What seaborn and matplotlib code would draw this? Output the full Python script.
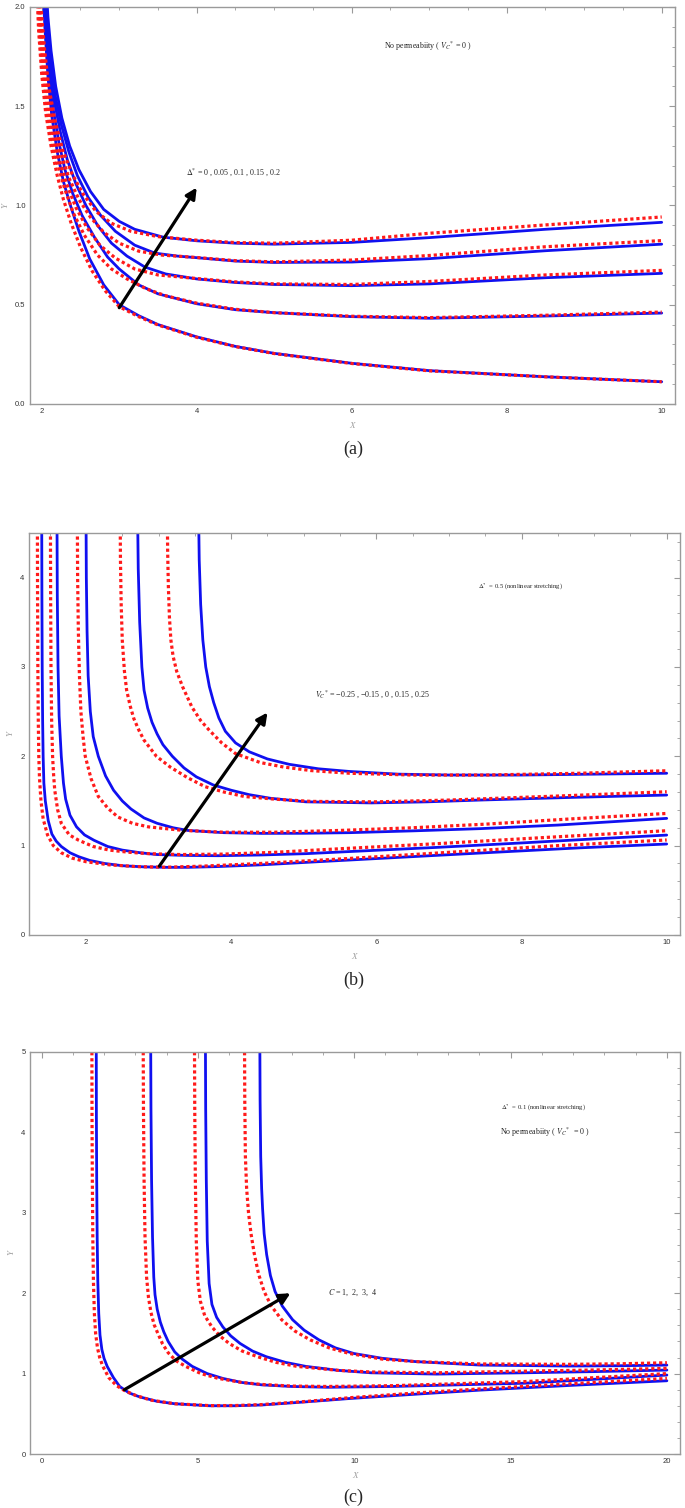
import seaborn as sns
import matplotlib.pyplot as plt
import pandas as pd

# ---------------- panel (a): Delta* = 0, 0.05, 0.1, 0.15, 0.2 (bottom -> top)
a_blue_x = [
    [2.01, 2.04, 2.08, 2.13, 2.2, 2.28, 2.37, 2.48, 2.62, 2.8, 3.0, 3.25, 3.5, 4.0, 4.5, 5.0, 6.0, 7.0, 8.5, 10.0],
    [2.02, 2.05, 2.09, 2.15, 2.22, 2.3, 2.4, 2.52, 2.68, 2.85, 3.0, 3.25, 3.5, 4.0, 4.5, 5.0, 6.0, 7.0, 8.5, 10.0],
    [2.03, 2.06, 2.1, 2.16, 2.24, 2.33, 2.44, 2.57, 2.72, 2.9, 3.1, 3.33, 3.6, 4.0, 4.5, 5.0, 6.0, 7.0, 8.5, 10.0],
    [2.04, 2.07, 2.11, 2.17, 2.25, 2.35, 2.46, 2.6, 2.76, 2.95, 3.2, 3.46, 3.75, 4.0, 4.5, 5.0, 6.0, 7.0, 8.5, 10.0],
    [2.05, 2.08, 2.12, 2.18, 2.26, 2.36, 2.48, 2.63, 2.8, 3.0, 3.2, 3.57, 4.0, 4.5, 5.0, 6.0, 7.0, 8.5, 10.0],
]
a_blue_y = [
    [2.15, 1.9, 1.65, 1.45, 1.27, 1.12, 1.0, 0.87, 0.73, 0.6, 0.5, 0.445, 0.40, 0.338, 0.29, 0.255, 0.205, 0.168, 0.137, 0.112],
    [2.15, 1.9, 1.68, 1.48, 1.32, 1.18, 1.06, 0.95, 0.84, 0.74, 0.68, 0.6, 0.555, 0.505, 0.475, 0.46, 0.44, 0.432, 0.443, 0.458],
    [2.15, 1.92, 1.72, 1.53, 1.37, 1.23, 1.11, 1.0, 0.9, 0.81, 0.745, 0.69, 0.655, 0.63, 0.612, 0.602, 0.596, 0.605, 0.636, 0.658],
    [2.15, 1.93, 1.75, 1.56, 1.41, 1.27, 1.15, 1.04, 0.95, 0.87, 0.8, 0.76, 0.745, 0.737, 0.72, 0.713, 0.715, 0.732, 0.772, 0.805],
    [2.15, 1.95, 1.78, 1.6, 1.44, 1.3, 1.18, 1.07, 0.98, 0.92, 0.88, 0.84, 0.822, 0.81, 0.805, 0.814, 0.838, 0.88, 0.915],
]
a_red_x = [
    [1.93, 1.96, 2.0, 2.05, 2.12, 2.2, 2.28, 2.38, 2.5, 2.65, 2.82, 3.0, 3.25, 3.5, 4.0, 4.5, 5.0, 6.0, 7.0, 8.5, 10.0],
    [1.94, 1.97, 2.01, 2.06, 2.13, 2.21, 2.3, 2.41, 2.55, 2.72, 2.9, 3.1, 3.35, 3.6, 4.0, 4.5, 5.0, 6.0, 7.0, 8.5, 10.0],
    [1.95, 1.98, 2.02, 2.07, 2.14, 2.22, 2.32, 2.44, 2.58, 2.75, 2.95, 3.2, 3.5, 4.0, 4.5, 5.0, 6.0, 7.0, 8.5, 10.0],
    [1.96, 1.99, 2.03, 2.08, 2.15, 2.24, 2.35, 2.48, 2.63, 2.8, 3.0, 3.25, 3.55, 4.0, 4.5, 5.0, 6.0, 7.0, 8.5, 10.0],
    [1.97, 2.0, 2.04, 2.09, 2.17, 2.27, 2.39, 2.53, 2.7, 2.9, 3.15, 3.5, 4.0, 4.5, 5.0, 6.0, 7.0, 8.5, 10.0],
]
a_red_y = [
    [2.15, 1.88, 1.66, 1.47, 1.3, 1.15, 1.03, 0.91, 0.79, 0.67, 0.57, 0.49, 0.44, 0.398, 0.336, 0.289, 0.254, 0.204, 0.167, 0.137, 0.112],
    [2.15, 1.9, 1.68, 1.5, 1.34, 1.2, 1.08, 0.96, 0.85, 0.75, 0.68, 0.63, 0.58, 0.545, 0.508, 0.477, 0.46, 0.442, 0.435, 0.447, 0.463],
    [2.15, 1.92, 1.72, 1.54, 1.38, 1.24, 1.11, 0.99, 0.89, 0.8, 0.735, 0.68, 0.65, 0.632, 0.615, 0.605, 0.602, 0.617, 0.65, 0.673],
    [2.15, 1.94, 1.75, 1.57, 1.42, 1.27, 1.14, 1.03, 0.94, 0.865, 0.81, 0.77, 0.75, 0.738, 0.722, 0.716, 0.725, 0.748, 0.792, 0.823],
    [2.15, 1.95, 1.77, 1.6, 1.43, 1.28, 1.16, 1.06, 0.97, 0.91, 0.87, 0.843, 0.825, 0.813, 0.81, 0.825, 0.86, 0.902, 0.942],
]

# ---------------- panel (b): V_C* = -0.25, -0.15, 0, 0.15, 0.25 (bottom -> top)
b_blue_x = [
    [1.39, 1.393, 1.397, 1.403, 1.41, 1.42, 1.44, 1.48, 1.53, 1.59, 1.66, 1.78, 1.9, 2.05, 2.26, 2.5, 2.8, 3.1, 3.4, 3.8, 4.42, 5.2, 6.23, 7.5, 8.8, 10.0],
    [1.60, 1.605, 1.615, 1.63, 1.66, 1.69, 1.72, 1.78, 1.87, 1.98, 2.11, 2.3, 2.5, 2.75, 2.98, 3.4, 3.82, 4.4, 5.03, 6.0, 6.83, 8.0, 9.0, 10.0],
    [2.0, 2.005, 2.015, 2.03, 2.06, 2.1, 2.17, 2.27, 2.38, 2.5, 2.62, 2.8, 2.98, 3.2, 3.4, 3.9, 4.42, 5.0, 5.63, 6.5, 7.43, 8.5, 10.0],
    [2.71, 2.72, 2.74, 2.77, 2.8, 2.85, 2.91, 2.98, 3.06, 3.19, 3.35, 3.52, 3.75, 4.0, 4.25, 4.54, 5.03, 5.93, 6.7, 7.43, 8.7, 10.0],
    [3.55, 3.56, 3.58, 3.61, 3.65, 3.7, 3.76, 3.83, 3.92, 4.06, 4.25, 4.5, 4.8, 5.2, 5.63, 6.3, 7.0, 8.0, 9.0, 10.0],
]
b_blue_y = [
    [4.8, 3.8, 3.0, 2.4, 2.0, 1.7, 1.5, 1.28, 1.13, 1.05, 0.99, 0.92, 0.876, 0.835, 0.80, 0.775, 0.762, 0.757, 0.757, 0.765, 0.785, 0.82, 0.865, 0.92, 0.975, 1.018],
    [4.8, 3.8, 3.0, 2.45, 2.0, 1.7, 1.52, 1.34, 1.21, 1.12, 1.06, 0.99, 0.95, 0.92, 0.90, 0.89, 0.887, 0.895, 0.91, 0.948, 0.98, 1.03, 1.075, 1.118],
    [4.8, 4.0, 3.4, 2.9, 2.5, 2.22, 2.0, 1.78, 1.62, 1.5, 1.41, 1.31, 1.25, 1.2, 1.17, 1.145, 1.137, 1.138, 1.145, 1.165, 1.19, 1.23, 1.305],
    [4.8, 4.1, 3.5, 3.0, 2.74, 2.54, 2.38, 2.25, 2.13, 2.0, 1.87, 1.77, 1.68, 1.62, 1.57, 1.53, 1.49, 1.478, 1.49, 1.51, 1.54, 1.566],
    [4.8, 4.2, 3.7, 3.3, 3.0, 2.78, 2.6, 2.43, 2.28, 2.15, 2.05, 1.97, 1.91, 1.86, 1.83, 1.80, 1.79, 1.79, 1.80, 1.81],
]
b_red_x = [
    [1.33, 1.333, 1.337, 1.343, 1.35, 1.36, 1.38, 1.41, 1.47, 1.55, 1.66, 1.81, 2.0, 2.32, 2.7, 3.1, 3.6, 4.4, 5.5, 7.0, 8.5, 10.0],
    [1.51, 1.513, 1.518, 1.527, 1.54, 1.555, 1.57, 1.61, 1.66, 1.77, 1.9, 2.1, 2.32, 2.6, 2.86, 3.3, 3.9, 4.6, 5.5, 6.8, 8.3, 10.0],
    [1.88, 1.885, 1.895, 1.91, 1.93, 1.96, 1.99, 2.07, 2.17, 2.3, 2.44, 2.64, 2.86, 3.34, 3.9, 4.6, 5.5, 6.5, 7.5, 8.7, 10.0],
    [2.47, 2.475, 2.485, 2.5, 2.53, 2.56, 2.61, 2.66, 2.73, 2.8, 2.97, 3.16, 3.4, 3.64, 3.9, 4.18, 4.6, 5.1, 6.0, 7.0, 8.5, 10.0],
    [3.12, 3.125, 3.135, 3.15, 3.17, 3.2, 3.25, 3.33, 3.46, 3.58, 3.7, 3.87, 4.06, 4.4, 4.72, 5.1, 5.63, 6.5, 7.5, 8.8, 10.0],
]
b_red_y = [
    [4.8, 3.8, 3.0, 2.4, 2.0, 1.75, 1.5, 1.3, 1.12, 1.0, 0.92, 0.86, 0.82, 0.785, 0.765, 0.758, 0.77, 0.8, 0.85, 0.925, 1.0, 1.063],
    [4.8, 3.8, 3.0, 2.4, 2.0, 1.78, 1.62, 1.4, 1.25, 1.12, 1.06, 0.99, 0.95, 0.925, 0.91, 0.9, 0.905, 0.925, 0.965, 1.02, 1.09, 1.167],
    [4.8, 4.0, 3.4, 2.9, 2.5, 2.22, 2.0, 1.75, 1.55, 1.42, 1.32, 1.25, 1.21, 1.17, 1.15, 1.15, 1.17, 1.2, 1.24, 1.3, 1.36],
    [4.8, 4.2, 3.7, 3.3, 2.95, 2.74, 2.56, 2.42, 2.29, 2.18, 2.0, 1.88, 1.76, 1.66, 1.6, 1.55, 1.52, 1.495, 1.49, 1.51, 1.555, 1.603],
    [4.8, 4.3, 3.9, 3.55, 3.3, 3.12, 2.95, 2.78, 2.55, 2.4, 2.29, 2.15, 2.03, 1.93, 1.88, 1.84, 1.81, 1.79, 1.79, 1.81, 1.838],
]

# ---------------- panel (c): C = 1, 2, 3, 4 (left -> right)
c_blue_x = [
    [1.75, 1.755, 1.765, 1.78, 1.8, 1.83, 1.87, 1.93, 2.0, 2.1, 2.3, 2.5, 2.8, 3.14, 3.7, 4.26, 5.38, 6.2, 7.05, 8.5, 9.85, 12.0, 14.04, 17.0, 20.0],
    [3.49, 3.5, 3.52, 3.55, 3.59, 3.63, 3.7, 3.8, 3.91, 4.05, 4.26, 4.5, 4.82, 5.3, 5.8, 6.4, 7.05, 8.0, 9.15, 11.24, 13.3, 15.43, 17.7, 20.0],
    [5.24, 5.25, 5.27, 5.3, 5.36, 5.45, 5.6, 5.8, 6.05, 6.35, 6.75, 7.19, 7.8, 8.45, 9.5, 10.54, 12.64, 15.43, 17.7, 20.0],
    [6.98, 6.99, 7.01, 7.04, 7.07, 7.12, 7.2, 7.32, 7.47, 7.7, 8.03, 8.4, 8.87, 9.4, 9.99, 10.9, 11.94, 14.04, 16.83, 18.5, 20.0],
]
c_blue_y = [
    [5.3, 4.2, 3.4, 2.7, 2.15, 1.75, 1.48, 1.3, 1.19, 1.09, 0.95, 0.84, 0.76, 0.71, 0.655, 0.625, 0.60, 0.60, 0.61, 0.65, 0.69, 0.745, 0.795, 0.855, 0.911],
    [5.3, 4.3, 3.4, 2.7, 2.2, 1.98, 1.8, 1.64, 1.52, 1.4, 1.27, 1.18, 1.09, 1.0, 0.94, 0.89, 0.86, 0.84, 0.83, 0.84, 0.86, 0.88, 0.93, 0.982],
    [5.3, 4.3, 3.4, 2.65, 2.12, 1.86, 1.7, 1.58, 1.47, 1.375, 1.28, 1.21, 1.14, 1.09, 1.04, 1.01, 0.994, 1.01, 1.025, 1.044],
    [5.3, 4.4, 3.7, 3.3, 3.05, 2.74, 2.48, 2.22, 2.02, 1.84, 1.67, 1.54, 1.42, 1.32, 1.25, 1.19, 1.15, 1.106, 1.094, 1.098, 1.106],
]
c_red_x = [
    [1.61, 1.615, 1.625, 1.64, 1.66, 1.69, 1.73, 1.79, 1.86, 1.95, 2.15, 2.4, 2.65, 3.0, 3.5, 4.26, 5.38, 6.2, 7.05, 8.5, 9.85, 12.0, 14.04, 17.0, 20.0],
    [3.25, 3.26, 3.28, 3.31, 3.36, 3.42, 3.5, 3.6, 3.72, 3.87, 4.05, 4.3, 4.61, 5.1, 5.66, 6.4, 7.05, 8.0, 9.15, 11.24, 13.3, 15.43, 17.7, 20.0],
    [4.89, 4.9, 4.92, 4.95, 5.0, 5.08, 5.22, 5.45, 5.7, 6.0, 6.42, 6.91, 7.5, 8.17, 9.5, 10.54, 12.64, 15.43, 17.7, 20.0],
    [6.49, 6.5, 6.52, 6.56, 6.62, 6.7, 6.8, 6.94, 7.12, 7.35, 7.68, 8.1, 8.59, 9.2, 9.85, 10.9, 11.94, 14.04, 16.83, 18.5, 20.0],
]
c_red_y = [
    [5.3, 4.2, 3.4, 2.7, 2.15, 1.75, 1.5, 1.32, 1.2, 1.1, 0.95, 0.85, 0.79, 0.73, 0.67, 0.625, 0.602, 0.603, 0.615, 0.655, 0.7, 0.76, 0.81, 0.875, 0.94],
    [5.3, 4.3, 3.4, 2.7, 2.2, 1.95, 1.76, 1.61, 1.5, 1.37, 1.26, 1.16, 1.09, 1.0, 0.94, 0.89, 0.865, 0.845, 0.84, 0.85, 0.875, 0.9, 0.95, 1.0],
    [5.3, 4.3, 3.4, 2.65, 2.15, 1.9, 1.72, 1.58, 1.47, 1.375, 1.28, 1.21, 1.14, 1.09, 1.04, 1.02, 1.01, 1.03, 1.045, 1.065],
    [5.3, 4.4, 3.7, 3.3, 3.0, 2.74, 2.5, 2.24, 2.02, 1.84, 1.67, 1.53, 1.42, 1.32, 1.25, 1.18, 1.15, 1.12, 1.115, 1.122, 1.135],
]

# arrows (tail, head) in data units
arrow_a = [(3.0, 0.485), (4.0, 1.09)]
arrow_b = [(3.01, 0.77), (4.5, 2.49)]
arrow_c = [(2.65, 0.80), (7.96, 2.0)]

sns.set_theme(style="white")
plt.rcParams['font.family'] = ['Liberation Serif', 'DejaVu Serif']
plt.rcParams['mathtext.fontset'] = 'stix'

BLUE = '#1010f0'
RED = '#ff1a1a'
FRAME = '#9a9a9a'


def draw_curves(ax, xs, ys, color, ls, lw):
    for cx, cy in zip(xs, ys):
        df = pd.DataFrame({'x': cx, 'y': cy})
        sns.lineplot(data=df, x='x', y='y', ax=ax, color=color, linestyle=ls,
                     lw=lw, estimator=None, sort=False)


def style_axes(ax, xlim, ylim, xmaj, xmin, ymaj, ymin, yfmt):
    ax.set_xlim(*xlim)
    ax.set_ylim(*ylim)
    ax.set_xticks(xmaj)
    ax.set_xticks(xmin, minor=True)
    ax.set_yticks(ymaj)
    ax.set_yticks(ymin, minor=True)
    ax.set_yticklabels([yfmt.format(v) for v in ymaj])
    for s in ax.spines.values():
        s.set_color(FRAME)
        s.set_linewidth(1.0)
    ax.tick_params(which='both', direction='in', top=True, right=True,
                   colors=FRAME, labelcolor='#333333', labelsize=5.5, pad=3)
    ax.tick_params(which='major', length=4, width=0.8)
    ax.tick_params(which='minor', length=2, width=0.6)
    for lab in ax.get_xticklabels() + ax.get_yticklabels():
        lab.set_family(['Liberation Sans', 'DejaVu Sans'])
    ax.set_xlabel('X', fontsize=6.5, color='#a0a0a0', style='italic', labelpad=5)
    ax.set_ylabel('Y', fontsize=6.5, color='#a0a0a0', style='italic', labelpad=4)


def draw_arrow(ax, arr):
    ax.annotate('', xy=arr[1], xytext=arr[0],
                arrowprops=dict(arrowstyle='-|>', color='black', lw=2.3,
                                mutation_scale=16, shrinkA=0, shrinkB=0),
                zorder=5)


fig = plt.figure(figsize=(6.85, 15.08), dpi=100)

# ---- (a)
ax = fig.add_axes([0.0434, 0.7321, 0.9416, 0.2633])
draw_curves(ax, a_blue_x, a_blue_y, BLUE, '-', 2.0)
draw_curves(ax, a_red_x, a_red_y, RED, (0, (1, 0.9)), 2.3)
draw_arrow(ax, arrow_a)
style_axes(ax, (1.845, 10.168), (0, 2.0), [2, 4, 6, 8, 10],
           [2.5, 3, 3.5, 4.5, 5, 5.5, 6.5, 7, 7.5, 8.5, 9, 9.5],
           [0, 0.5, 1.0, 1.5, 2.0], [i / 10 for i in range(21)], '{:.1f}')
ax.text(6.42, 1.80, r'No permeabiity ( $V_C{}^{*}$ = 0 )', fontsize=5.8, va='center')
ax.text(3.86, 1.17, r'$\Delta^{*}$ = 0 , 0.05 , 0.1 , 0.15 , 0.2', fontsize=5.8, va='center')

# ---- (b)
ax = fig.add_axes([0.042, 0.380, 0.951, 0.2666])
draw_curves(ax, b_blue_x, b_blue_y, BLUE, '-', 2.0)
draw_curves(ax, b_red_x, b_red_y, RED, (0, (1, 0.9)), 2.3)
draw_arrow(ax, arrow_b)
style_axes(ax, (1.212, 10.186), (0, 4.5), [2, 4, 6, 8, 10],
           [1.5, 2.5, 3, 3.5, 4.5, 5, 5.5, 6.5, 7, 7.5, 8.5, 9, 9.5],
           [0, 1, 2, 3, 4], [i / 5 for i in range(23)], '{:.0f}')
ax.text(7.4, 3.90, r'$\Delta^{*}$  = 0.5 (nonlinear stretching)', fontsize=4.8, va='center')
ax.text(5.15, 2.70, r'$V_C{}^{*}$ = −0.25 , −0.15 , 0 , 0.15 , 0.25', fontsize=5.8, va='center')

# ---- (c)
ax = fig.add_axes([0.0434, 0.0358, 0.9498, 0.2666])
draw_curves(ax, c_blue_x, c_blue_y, BLUE, '-', 2.0)
draw_curves(ax, c_red_x, c_red_y, RED, (0, (1, 0.9)), 2.3)
draw_arrow(ax, arrow_c)
style_axes(ax, (-0.377, 20.43), (0, 5.0), [0, 5, 10, 15, 20],
           [i for i in range(21) if i % 5],
           [0, 1, 2, 3, 4, 5], [i / 5 for i in range(26)], '{:.0f}')
ax.text(14.7, 4.30, r'$\Delta^{*}$  = 0.1 (nonlinear stretching)', fontsize=4.8, va='center')
ax.text(14.66, 4.00, r'No permeabiity ( $V_C{}^{*}$  = 0 )', fontsize=5.8, va='center')
ax.text(9.15, 2.00, r'$C$ = 1,  2,  3,  4', fontsize=5.8, va='center')

for lab, yy in [('(a)', 449), ('(b)', 980), ('(c)', 1497)]:
    fig.text(0.516, 1 - yy / 1508, lab, fontsize=13, ha='center', va='center')

fig.savefig('out.png', dpi=100, facecolor='white')
